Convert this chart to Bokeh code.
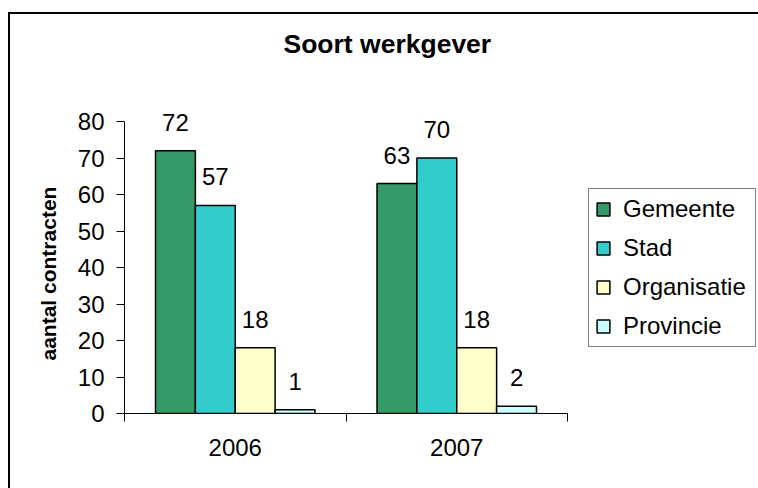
from bokeh.plotting import figure
from bokeh.models import (Range1d, LinearAxis, FixedTicker, Title,
                          LabelSet, ColumnDataSource, Legend, LegendItem)
from bokeh.core.properties import value
from bokeh.embed import file_html
from bokeh.resources import INLINE

# ---- data ----
years = ["2006", "2007"]
series_names = ["Gemeente", "Stad", "Organisatie", "Provincie"]
gemeente = [72, 63]
stad = [57, 70]
organisatie = [18, 18]
provincie = [1, 2]
series_values = [gemeente, stad, organisatie, provincie]
colors = ["#339966", "#33CCCC", "#FFFFCC", "#CCFFFF"]
y_ticks = [0, 10, 20, 30, 40, 50, 60, 70, 80]
y_max = 80
title_text = "Soort werkgever"
y_label = "aantal contracten"

FONT = "Liberation Sans"

n = len(years)
centers = [i + 0.5 for i in range(n)]          # category centres on the x scale
bounds = list(range(n + 1))                    # category boundaries (tick marks)

# layout constants (canvas pixels = page pixels)
W, H = 758, 488
LEFT = 124            # frame left
AXIS_TOP = 121        # where y_max sits
ZERO_Y = 413          # where 0 sits
FRAME_TOP = 66
CAT_AREA_PX = 443
px_per_unit = (ZERO_Y - AXIS_TOP) / y_max
y_end = y_max + (AXIS_TOP - FRAME_TOP) / px_per_unit
frame_w = W - LEFT
x_end = n * frame_w / CAT_AREA_PX

p = figure(x_range=Range1d(0, x_end), y_range=Range1d(0, y_end),
           width=W, height=H, output_backend="svg", toolbar_location=None,
           x_axis_location=None, y_axis_location="left",
           min_border_left=LEFT, min_border_right=0, min_border_top=FRAME_TOP,
           min_border_bottom=H - ZERO_Y)
# chart-area border (left and top edges) painted behind a transparent canvas
p.styles = {"box-shadow": "inset 8px 12px 0px 0px white, inset 10px 14px 0px 0px black"}
p.outline_line_color = None
p.background_fill_color = "white"
p.border_fill_color = None
p.xgrid.grid_line_color = None
p.ygrid.grid_line_color = None

# title
p.title.text = title_text
p.title.text_font = FONT
p.title.text_font_size = "26.5px"
p.title.text_font_style = "bold"
p.title.text_color = "black"
p.title.align = "left"
p.title.offset = 159
p.title.standoff = 15

# y axis
ya = p.yaxis[0]
ya.ticker = FixedTicker(ticks=y_ticks, minor_ticks=[])
ya.bounds = (0, y_max)
ya.major_tick_out = 8
ya.major_tick_in = 0
ya.minor_tick_line_color = None
ya.major_label_standoff = 12
ya.major_label_text_font = FONT
ya.major_label_text_font_size = "24px"
ya.major_label_text_color = "black"
ya.axis_line_color = "black"
ya.major_tick_line_color = "black"

# y axis title (vertical), aligned along the 0..80 span
y_title = Title(text=y_label, text_font=FONT, text_font_size="21px", text_font_style="bold",
                text_color="black", align="left", offset=53, standoff=30)
p.add_layout(y_title, "left")

# x axes: boundary ticks + category labels
tick_axis = LinearAxis(ticker=FixedTicker(ticks=bounds, minor_ticks=[]), bounds=(0, n),
                       major_tick_out=8, major_tick_in=0, minor_tick_line_color=None,
                       major_label_overrides={b: "" for b in bounds},
                       major_label_text_font_size="1px", major_label_standoff=0,
                       axis_line_color="black", major_tick_line_color="black")
cat_axis = LinearAxis(ticker=FixedTicker(ticks=centers, minor_ticks=[]),
                      major_label_overrides={c: y for c, y in zip(centers, years)},
                      major_tick_line_color=None, major_tick_out=0, major_tick_in=0,
                      minor_tick_line_color=None,
                      axis_line_color=None, major_label_standoff=17,
                      major_label_text_font=FONT, major_label_text_font_size="24px",
                      major_label_text_color="black")
p.add_layout(tick_axis, "below")
p.add_layout(cat_axis, "below")

# bars
bar_w = 0.18
items = []
for i, (name, vals, col) in enumerate(zip(series_names, series_values, colors)):
    off = (i - (len(series_names) - 1) / 2) * bar_w
    xs = [c + off for c in centers]
    src = ColumnDataSource(dict(x=xs, value=vals, label=[str(v) for v in vals]))
    r = p.vbar(x="x", top="value", width=bar_w, bottom=0,
               source=src, fill_color=col, line_color="black", line_width=1.5)
    items.append(LegendItem(label=name, renderers=[r]))
    labels = LabelSet(x="x", y="value", text="label",
                      source=src, text_align="center", text_baseline="alphabetic",
                      y_offset=20, text_font=value(FONT), text_font_size=value("24px"),
                      text_color="black")
    p.add_layout(labels)

legend = Legend(items=items, location=(464, 66), margin=0, padding=6, spacing=11,
                glyph_width=16, glyph_height=16, label_standoff=12, label_width=126,
                label_text_font=FONT, label_text_font_size="24px", label_text_color="black",
                border_line_color="black", border_line_width=1, background_fill_color="white")
p.add_layout(legend, "center")

open("out.html", "w").write(file_html(p, INLINE))
